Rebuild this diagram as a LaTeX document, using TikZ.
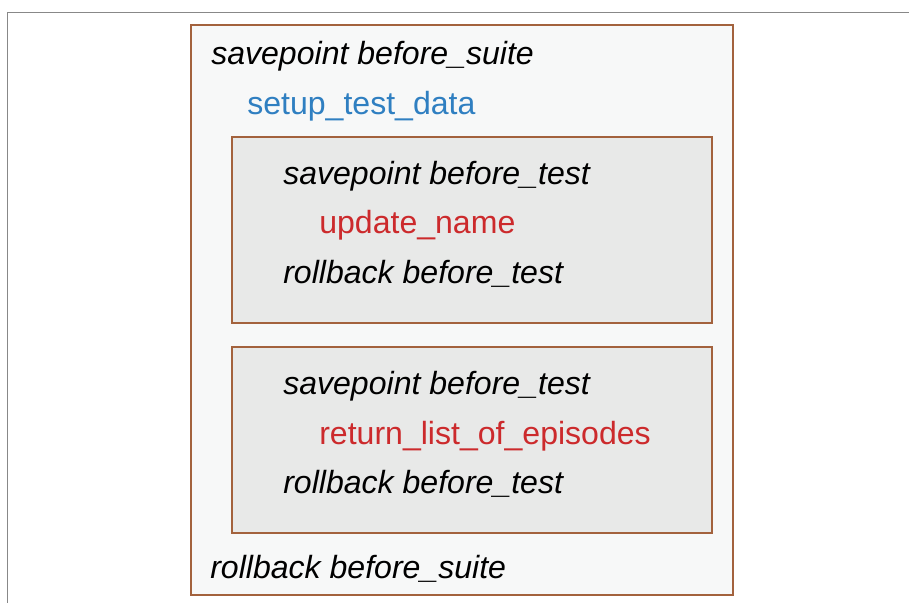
\documentclass[tikz,border=0pt]{standalone}
\usepackage{fontspec}
\setmainfont{Liberation Sans}
\definecolor{boxedge}{HTML}{A3623D}
\definecolor{suitefill}{HTML}{F7F8F8}
\definecolor{testfill}{HTML}{E8E9E8}
\definecolor{setupblue}{HTML}{2F7FC1}
\definecolor{testred}{HTML}{CC2A2C}
\definecolor{rulegray}{HTML}{888888}

\begin{document}
\begin{tikzpicture}[x=0.025cm, y=-0.025cm,
    every node/.style = {anchor=base west, inner sep=0pt,
      font=\fontsize{22.8}{27}\selectfont},
    sql/.style = {font=\fontsize{22.8}{27}\selectfont\itshape},
    setupcall/.style = {text=setupblue},
    testcall/.style = {text=testred},
    suitebox/.style = {draw=boxedge, line width=1.4pt, fill=suitefill},
    testbox/.style = {draw=boxedge, line width=1.4pt, fill=testfill}]
  \useasboundingbox (0,0) rectangle (909,603);
  \draw[rulegray, line width=1.3pt] (909,12.5) -- (7.5,12.5) -- (7.5,603);

  % suite
  \draw[suitebox] (191,25) rectangle (733,595);
  \node[sql] (svsuite) at (211,65) {savepoint before\_suite};
  \node[setupcall] (setup) at (247,115) {setup\_test\_data};
  \node[sql] (rbsuite) at (210,578) {rollback before\_suite};

  % one box per test
  \foreach \i/\y/\name in {1/137/update\_name, 2/347/return\_list\_of\_episodes} {
    \draw[testbox] (232,\y) rectangle (712,\y+186);
    \node[sql] (sv\i) at (283,\y+48) {savepoint before\_test};
    \node[testcall] (t\i) at (319,\y+97) {\name};
    \node[sql] (rb\i) at (283,\y+147) {rollback before\_test};
  }
\end{tikzpicture}
\end{document}
